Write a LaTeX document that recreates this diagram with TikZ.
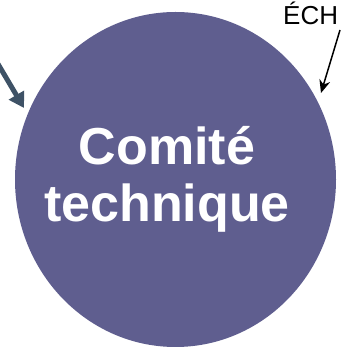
\documentclass[tikz,border=0pt]{standalone}
\usepackage{fontspec}
\setmainfont{Liberation Sans}
\usetikzlibrary{shapes.geometric,arrows.meta}
\definecolor{circfill}{RGB}{95,94,143}
\definecolor{slatearrow}{RGB}{62,82,102}
\tikzset{
  bigtext/.style={text=white, font=\fontsize{52}{57}\selectfont\bfseries, anchor=base, inner sep=0pt},
  smalltext/.style={text=black, font=\fontsize{26}{28}\selectfont, inner sep=0pt},
}
\begin{document}
\begin{tikzpicture}[x=1pt,y=1pt]
\useasboundingbox (0,0) rectangle (340,348);
\node[ellipse, fill=circfill, draw=none, minimum width=321pt, minimum height=335pt, inner sep=0pt] (c) at (175.5,168.5) {};
\node[bigtext] (l1) at (167,183) {Comité};
\node[bigtext] (l2) at (167,126) {technique};
\node[smalltext, anchor=base west] (ech) at (283,323) {ÉCH};
\coordinate (rs) at (340,318);
\coordinate (rt) at (321,255);
\draw[line width=1.5pt, -{Stealth[length=13pt,width=11pt]}] (rs) -- (rt);
\coordinate (ls) at (-2,284);
\coordinate (lt) at (24,240);
\draw[slatearrow, line width=5pt, -{Triangle[length=15pt,width=17pt]}] (ls) -- (lt);
\end{tikzpicture}
\end{document}
